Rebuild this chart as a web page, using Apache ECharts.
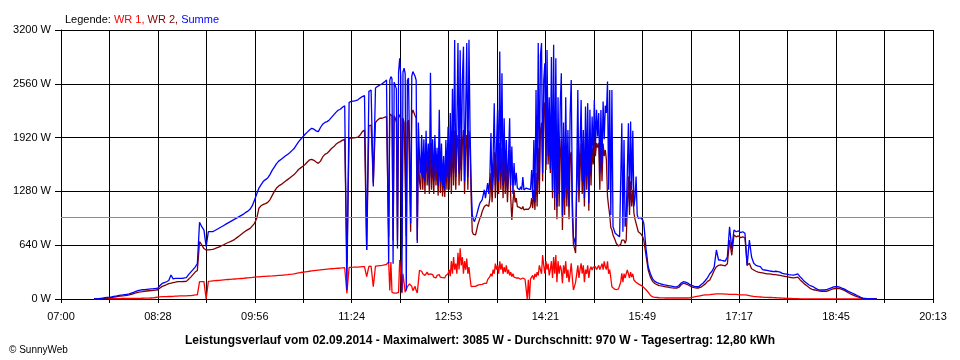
<!DOCTYPE html>
<html><head><meta charset="utf-8">
<script src="https://cdn.jsdelivr.net/npm/echarts@6/dist/echarts.min.js"></script>
<style>html,body{margin:0;padding:0;background:#fff}#c{width:960px;height:360px}</style>
</head><body><div id="c"></div>
<script>
// ---- data ----
const axisStart = "07:00";
const axisEnd = "20:13";
const timeTickLabels = ["07:00","08:28","09:56","11:24","12:53","14:21","15:49","17:17","18:45","20:13"];
const yMax = 3200, yStep = 640;
const averageW = 970;
const titleText = "Leistungsverlauf vom 02.09.2014 - Maximalwert: 3085 W - Durchschnitt: 970 W - Tagesertrag: 12,80 kWh";

// morning: from 07:30, every 2 minutes
const morningStart = "07:30", morningStep = 2;
const wr1Morning = [
0,0,0,1,1,2,3,3,4,4,
5,5,5,6,6,6,6,7,7,7,
8,8,9,10,10,11,12,13,18,22,
25,28,28,29,30,30,32,34,35,36,
36,36,38,39,40,44,48,50,206,206,
206,0,210,212,215,218,220,222,225,228,
230,232,234,236,238,240,242,244,246,250,
252,255,257,260,262,264,266,268,270,272,
273,274,276,278,280,282,285,288,290,293,
296,300,305,310,315,318,322,326,330,334,
337,340,343,346,349,352,355,358,360,362,
364,366,368,370,372,68,375,377,378,380,
380,382,384,385,265,388,390,146,392,395,
398,400,405,413
];
const wr2Morning = [
0,0,2,4,6,8,10,14,18,22,
26,30,34,38,40,44,48,55,65,72,
80,85,88,92,95,98,100,102,105,110,
130,150,160,170,182,188,195,200,206,206,
206,208,210,235,260,290,320,340,682,643,
600,583,585,588,591,600,610,620,635,645,
660,672,682,695,710,730,750,770,790,810,
825,840,870,900,960,1080,1110,1125,1135,1150,
1180,1230,1280,1320,1345,1360,1380,1400,1420,1440,
1460,1480,1510,1540,1560,1580,1600,1630,1654,1660,
1650,1630,1614,1640,1690,1720,1734,1760,1790,1810,
1840,1860,1872,1890,1900,425,1910,1915,1918,1920,
1925,1950,1991,2010,583,2060,2070,1377,2100,2130,
2150,2150,2160,2170
];
const summeMorning = [
0,0,5,8,10,15,20,22,25,30,
35,40,45,48,52,56,60,70,80,90,
100,105,110,112,115,118,120,122,125,130,
160,185,195,205,220,285,240,246,246,246,
246,250,255,290,320,350,380,420,913,860,
820,622,801,801,801,815,830,845,860,875,
890,905,920,935,950,965,980,995,1010,1030,
1045,1070,1110,1178,1250,1320,1360,1400,1420,1440,
1480,1530,1570,1610,1640,1660,1680,1700,1720,1740,
1765,1790,1830,1870,1900,1930,1960,1985,2010,2030,
2020,2000,1991,2040,2080,2100,2110,2130,2160,2190,
2220,2245,2257,2280,2300,107,2340,2350,2355,2360,
2370,2390,2408,2420,583,2470,2487,1337,2510,2530,
2546,2560,2580,2606
];

// midday (cloudy, very jumpy): from 11:58, every minute
const middayStart = "11:58", middayStep = 1;
const wr1Midday = [
440,100,440,80,70,70,65,70,70,80, 464,300,70,300,300,80,80,146,146,180, 180,150,100,120,150,100,71,71,340,330,
330,300,320,280,300,320,290,270,300,280, 290,260,270,250,280,265,290,260,270,255, 265,250,280,260,
300,350,270,450,300,500,350,420,300,550, 350,603,400,500,300,450,350,480,300,380, 250,146,
146,150,150,150,160,165,170,170,175,175, 180,185,180,187,230,250,265,
300,270,350,300,420,350,400,300,448,350, 420,300,380,320,400,300,350,280,320,265, 300,260,280,250,240,
250,240,235,230,250,230,235,230,0,230, 0,240,
250,280,230,300,260,320,280,400,350,300, 524,400,300,450,350,420,280,350,450,
250,500,300,524,200,450,300,400,350,187, 400,300,450,250,350,200,300,425,250,107, 150,200,
300,400,250,350,425,300,400,200,350,300, 400,250,350,384,345,380,360,384,350,370,
400,350,384,420,350,448,380,350,448,300, 350,250,146,140,120,107,110,115,120,130, 200,305,200,
300,250,300,345,300,250,320,260,300,226, 220,200,190,180,170,165,160,150,146
];
const wr2Midday = [
741,2200,2200,2180,700,2180,2150,2100,700,2200, 2200,2150,600,2150,2100,2100,750,2100,2130,2150, 800,2200,2250,2230,2180,2150,700,1800,1400,1300,
1750,1300,1700,1250,1850,1350,1650,1250,1856,1300, 1700,1250,1750,1350,1600,1230,1800,1260,1650,1220, 1500,1214,1650,1300,
1850,1300,1900,1250,1950,1350,2000,1300,1800,1950, 1350,1900,1400,1850,2011,1250,1800,1950,1300,2000, 1800,1200,
800,770,762,762,820,880,920,960,990,1040, 1060,1100,1090,1120,1138,1100,1200,
1500,1150,1400,1750,1200,1500,1800,1250,1856,1300, 1800,1200,1700,1250,1600,1150,1450,1773,1200,940, 1150,1300,1150,1200,1100,
1098,1090,1080,1070,1100,1060,1065,1070,1059,1065, 1060,1100,
1200,1080,1300,1060,1500,1100,1800,1250,2000,2100, 1400,2200,2340,1535,2310,1600,2000,1500,2100,
1200,2200,1060,2100,950,1800,1100,1700,1900,821, 1600,1000,1800,1100,1600,950,1700,1750,1000,650, 600,547,
1300,1800,1150,1500,1850,1250,1700,1100,1890,1300, 1900,1050,1850,1350,1800,1600,1890,1700,1856,1800,
1856,1300,1892,1400,1850,1700,1773,1654,1217,1100, 1000,850,821,762,740,700,660,640,630,622, 650,700,680,
700,663,700,1100,1456,1000,1400,1100,1300,1023, 950,900,850,800,785,780,770,741,700
];
const summeMidday = [
425,2600,2646,2620,420,2580,2566,2500,600,2700, 2864,2650,80,2700,2745,2680,100,2600,2630,2640, 900,2650,2705,2690,2650,2600,666,2100,1700,1500,
1950,1450,1900,1400,2000,1500,1850,1350,2690,1450, 1900,1400,1950,1500,1800,1350,2250,1400,1850,1350, 1700,1300,1892,1450,
2050,1400,2213,1450,2500,1500,3080,1450,2050,3045, 1500,2960,1535,2606,3002,1400,2213,3045,1450,3085, 2011,1380,
1000,950,920,930,1000,1050,1100,1140,1150,1178, 1190,1300,1200,1217,1380,1250,1456,
1975,1300,1700,2329,1350,1800,2249,1400,2943,1500, 2686,1350,2150,1400,1892,1300,1700,2150,1350,1813, 1250,1618,1350,1500,1320,
1320,1300,1337,1300,1450,1297,1300,1320,1300,1310, 1297,1300,
1535,1200,1892,1150,2487,1300,3045,1400,2900,3045, 1500,2600,2805,1600,2963,1700,2400,1550,2880,
1300,3025,1200,2864,1100,2400,1250,2300,2686,1000, 2100,1200,2400,1300,2011,1100,2200,2606,1200,741, 700,622,
1500,2487,1300,1800,2368,1400,2011,1200,2289,1456, 2330,1142,2250,1500,2170,1700,2368,1800,2250,1932,
2213,1500,2249,1600,2348,1900,2300,2213,2586,1300, 2487,1000,2487,860,820,782,770,760,750,741, 745,2090,800,
1892,860,979,1500,2090,1100,2110,1300,2000,1100, 1200,1456,1000,960,979,970,979,940,900
];

// evening: from 15:52, every 2 minutes
const eveningStart = "15:52", eveningStep = 2;
const wr1Evening = [
110,80,45,25,20,18,15,14,13,
12,12,12,12,12,12,12,12,12,12,
12,15,20,25,30,35,40,45,48,50,
52,55,58,60,60,60,60,58,58,55,
55,55,55,52,50,50,48,45,40,35,
30,28,25,24,22,20,20,18,18,16,
15,14,12,10,9,8,7,6,5,4,
3,2,1,0,0,0,0,0,0,0,
0,0,0,0,0,0,0,0,0,0,
0,0,0,0,0,0,0,0,0,0,
0,0,0,0,0,0,0
];
const wr2Evening = [
520,345,260,210,185,170,160,155,150,
145,140,135,132,130,130,140,170,188,180,
170,155,140,135,131,131,140,160,180,210,
226,280,340,384,400,405,400,395,420,700,
520,762,740,750,730,740,726,400,425,360,
345,330,320,315,310,305,300,300,295,290,
290,285,280,275,270,265,260,255,250,255,
260,230,206,180,160,140,120,110,107,100,
95,90,90,90,100,110,120,125,127,125,
115,105,90,75,60,48,38,28,18,8,
4,3,2,1,1,0,0
];
const summeEvening = [
600,384,300,240,210,195,185,178,170,
165,160,155,150,145,145,160,190,206,200,
190,170,160,150,146,146,170,190,220,255,
300,330,380,583,464,464,455,450,500,860,
600,821,800,810,790,800,782,400,702,500,
425,400,390,384,350,345,340,335,330,325,
330,325,320,305,300,295,290,286,285,290,
300,265,240,210,190,170,155,146,130,115,
107,107,107,110,120,130,140,146,146,140,
130,120,105,90,80,68,55,42,30,15,
8,6,5,4,3,2,0
];

// ---- build ----
const toMin = s => { const [h, m] = s.split(":").map(Number); return h * 60 + m; };
const UNIT = 18; // axis units per minute (makes the 18 grid intervals integral)
const a0 = toMin(axisStart), a1 = toMin(axisEnd);
const span = (a1 - a0) * UNIT;
const tickInt = span / 18;
const seg = (arr, start, step) => arr.map((v, i) => [(toMin(start) + i * step - a0) * UNIT, v]);
const build = (m, d, e) => seg(m, morningStart, morningStep)
  .concat(seg(d, middayStart, middayStep))
  .concat(seg(e, eveningStart, eveningStep));

const FONT = "Liberation Sans, Arial, sans-serif";
const chart = echarts.init(document.getElementById('c'), null, {renderer: 'canvas'});
chart.setOption({
  animation: false,
  backgroundColor: '#ffffff',
  textStyle: {fontFamily: FONT},
  title: [
    {text: '{k|Legende: }{a|WR 1, }{b|WR 2, }{c|Summe}', left: 60, top: 9,
     textStyle: {fontWeight: 'normal', rich: {
       k: {color: '#000', fontSize: 11, fontWeight: 'normal', fontFamily: FONT},
       a: {color: '#ff0000', fontSize: 11, fontWeight: 'normal', fontFamily: FONT},
       b: {color: '#800000', fontSize: 11, fontWeight: 'normal', fontFamily: FONT},
       c: {color: '#0000ff', fontSize: 11, fontWeight: 'normal', fontFamily: FONT}}}},
    {text: titleText, left: 'center', top: 330,
     textStyle: {fontSize: 12, fontWeight: 'bold', color: '#000', fontFamily: FONT}},
    {text: '© SunnyWeb', left: 4, top: 340,
     textStyle: {fontSize: 10, fontWeight: 'normal', color: '#000', fontFamily: FONT}}
  ],
  grid: {left: 61, right: 27, top: 30, bottom: 61, containLabel: false},
  xAxis: {
    type: 'value', min: 0, max: span, interval: tickInt,
    axisLine: {show: true, lineStyle: {color: '#000', width: 1}},
    axisTick: {show: true, length: 4, lineStyle: {color: '#000'}},
    splitLine: {show: true, lineStyle: {color: '#000', width: 1}},
    axisLabel: {
      color: '#000', fontSize: 11, margin: 12, fontFamily: FONT,
      formatter: v => { const k = Math.round(v / tickInt); return k % 2 === 0 ? (timeTickLabels[k / 2] || '') : ''; }
    }
  },
  yAxis: {
    type: 'value', min: 0, max: yMax, interval: yStep,
    axisLine: {show: true, lineStyle: {color: '#000', width: 1}},
    axisTick: {show: true, length: 6, lineStyle: {color: '#000'}},
    splitLine: {show: true, lineStyle: {color: '#000', width: 1}},
    axisLabel: {color: '#000', fontSize: 11, margin: 10, fontFamily: FONT, formatter: v => v + ' W'}
  },
  series: [
    {type: 'line', data: [], z: 1, silent: true,
     markLine: {silent: true, symbol: 'none', label: {show: false},
       lineStyle: {color: '#8c8c8c', type: 'solid', width: 1},
       data: [{yAxis: averageW}]}},
    {name: 'WR 1', type: 'line', data: build(wr1Morning, wr1Midday, wr1Evening), showSymbol: false, symbol: 'none', z: 2,
     lineStyle: {color: '#ff0000', width: 1.3}},
    {name: 'WR 2', type: 'line', data: build(wr2Morning, wr2Midday, wr2Evening), showSymbol: false, symbol: 'none', z: 3,
     lineStyle: {color: '#800000', width: 1.3}},
    {name: 'Summe', type: 'line', data: build(summeMorning, summeMidday, summeEvening), showSymbol: false, symbol: 'none', z: 4,
     lineStyle: {color: '#0000ff', width: 1.3}}
  ]
});
</script></body></html>
